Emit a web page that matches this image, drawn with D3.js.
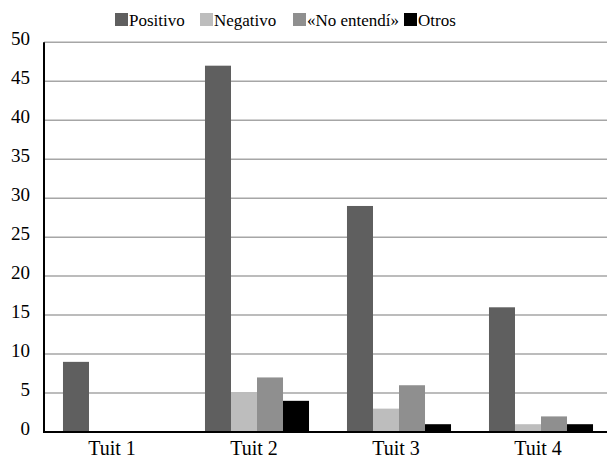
<!DOCTYPE html>
<html><head><meta charset="utf-8">
<script src="https://cdn.jsdelivr.net/npm/d3@7"></script>
<style>body{margin:0;background:#fff;overflow:hidden}svg{display:block}
text{font-family:"Liberation Serif","DejaVu Serif",serif}</style>
</head><body>
<svg id="c" width="607" height="458"></svg>
<script>
const categories = ["Tuit 1", "Tuit 2", "Tuit 3", "Tuit 4"];
const seriesNames = ["Positivo", "Negativo", "«No entendí»", "Otros"];
const positivo = [9, 47, 29, 16];
const negativo = [0, 5, 3, 1];
const noEntendi = [0, 7, 6, 2];
const otros = [0, 4, 1, 1];
const yTicks = [0, 5, 10, 15, 20, 25, 30, 35, 40, 45, 50];
const colors = ["#5f5f5f", "#bdbdbd", "#8f8f8f", "#000000"];

const seriesValues = [positivo, negativo, noEntendi, otros];
const svg = d3.select("#c");
const L = 44, R = 612, T = 42.3, B = 432;

const x = d3.scaleBand().domain(categories).range([L, R]).paddingInner(0).paddingOuter(0);
const inner = d3.scaleBand().domain(seriesNames).range([0, x.bandwidth()]).paddingInner(0).paddingOuter(0.73);
const y = d3.scaleLinear().domain([0, 50]).range([B, T]);

// gridlines
svg.append("g").selectAll("line").data(yTicks.filter(d => d > 0)).join("line")
  .attr("x1", L).attr("x2", R).attr("y1", d => y(d)).attr("y2", d => y(d))
  .attr("stroke", "#a6a6a6").attr("stroke-width", 1.5);

// bars
const rows = [];
categories.forEach((c, i) => seriesNames.forEach((s, j) => rows.push({c, s, v: seriesValues[j][i], col: colors[j]})));
svg.append("g").selectAll("rect").data(rows).join("rect")
  .attr("x", d => x(d.c) + inner(d.s))
  .attr("width", inner.bandwidth())
  .attr("y", d => y(d.v))
  .attr("height", d => B - y(d.v))
  .attr("fill", d => d.col);

// axes lines
svg.append("line").attr("x1", L).attr("x2", L).attr("y1", T).attr("y2", B + 1)
  .attr("stroke", "#000").attr("stroke-width", 2);
svg.append("line").attr("x1", L - 1).attr("x2", R).attr("y1", B).attr("y2", B)
  .attr("stroke", "#000").attr("stroke-width", 2);

// y labels
svg.append("g").selectAll("text").data(yTicks).join("text")
  .attr("x", 30).attr("y", d => y(d) + 3)
  .attr("text-anchor", "end")
  .attr("font-size", 19).attr("fill", "#000")
  .text(d => d);

// x labels
svg.append("g").selectAll("text").data(categories).join("text")
  .attr("x", d => x(d) + x.bandwidth() / 2 - 3).attr("y", 455)
  .attr("text-anchor", "middle")
  .attr("font-size", 20).attr("fill", "#000")
  .text(d => d);

// legend
const legendX = [115, 200, 293, 404];
const lg = svg.append("g");
seriesNames.forEach((s, j) => {
  lg.append("rect").attr("x", legendX[j]).attr("y", 13).attr("width", 13).attr("height", 13).attr("fill", colors[j]);
  lg.append("text").attr("x", legendX[j] + 14).attr("y", 26)
    .attr("font-size", 17).attr("fill", "#000").text(s);
});
</script>
</body></html>
